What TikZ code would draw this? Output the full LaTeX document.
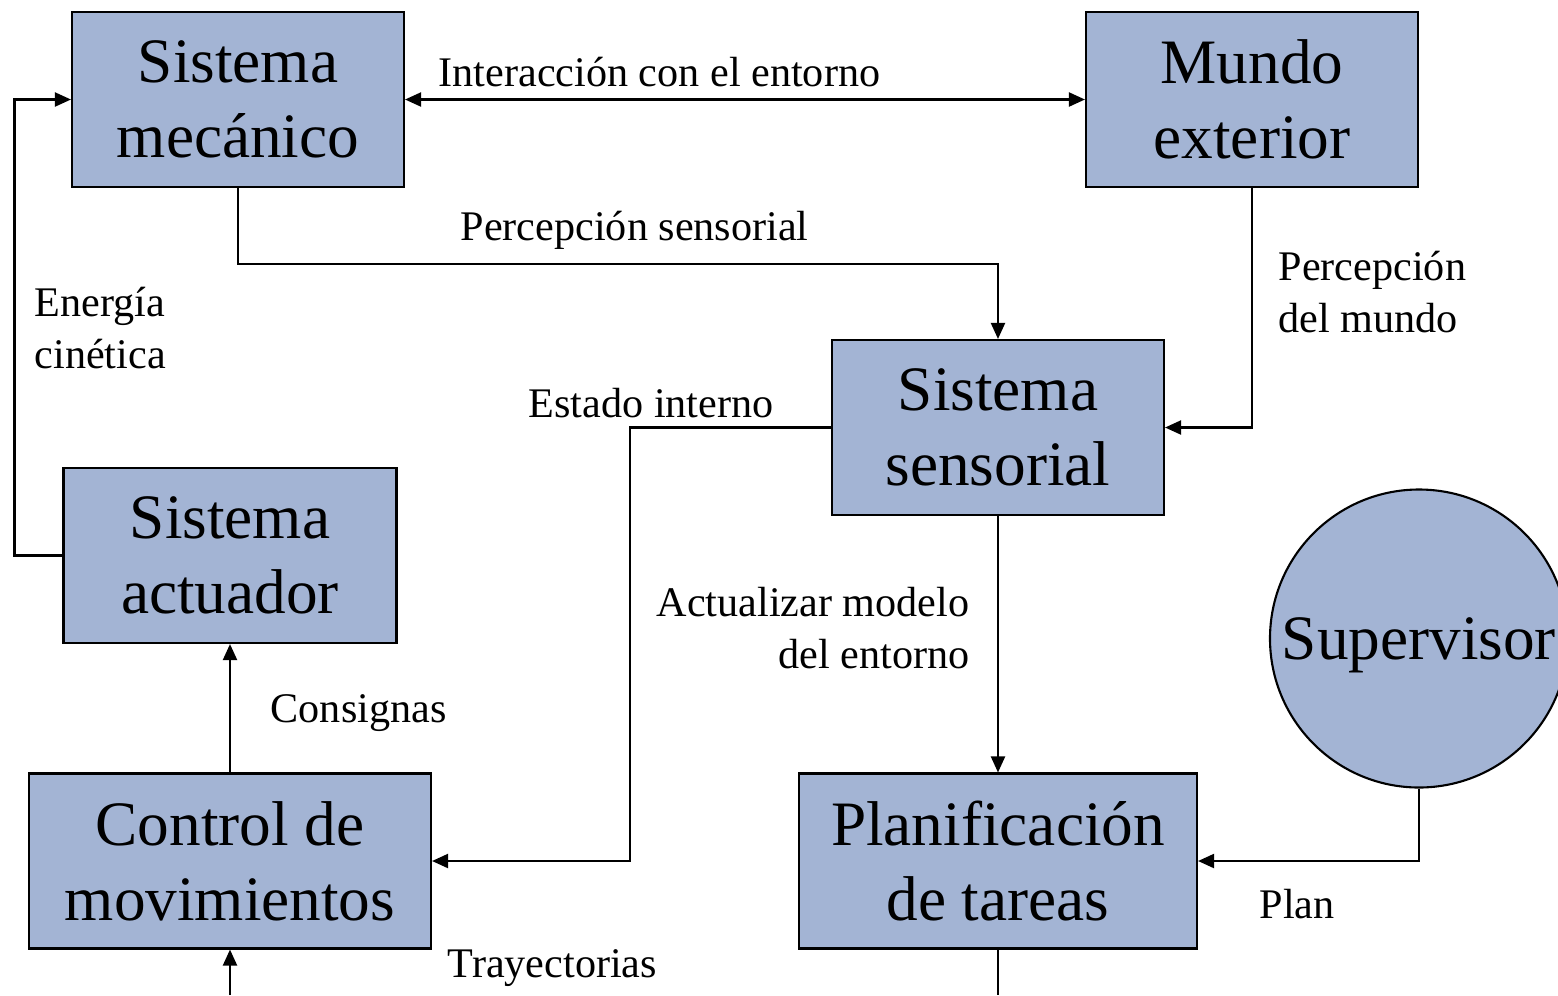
\documentclass[tikz,border=0pt]{standalone}
\usepackage{fontspec}
\setmainfont{Liberation Serif}
\usetikzlibrary{arrows.meta}
\definecolor{azulbloque}{RGB}{163,180,212}

\begin{document}
\begin{tikzpicture}[scale = 1,
		>={Triangle[length = 1.6mm, width = 1.4mm]},
		linea/.style = {line width = 0.6pt},
		bloque/.style = {draw, line width = 0.6pt, fill = azulbloque, align = center, minimum width = 3.32cm, minimum height = 1.75cm, inner sep = 0pt, font = \fontsize{18}{21.3}\selectfont},
		circulo/.style = {bloque, circle, minimum size = 2.98cm, text depth = 0pt},
		etiqueta/.style = {inner sep = 0pt, font = \fontsize{12}{14.8}\selectfont}]
				%	marco
				\useasboundingbox (0, 0) rectangle (15.58, -9.95);
				
				%	bloques
				\node[bloque] (mecanico) at (2.38, -0.995) {Sistema\\mecánico};
				\node[bloque] (mundo) at (12.52, -0.995) {Mundo\\exterior};
				\node[bloque] (sensorial) at (9.98, -4.275) {Sistema\\sensorial};
				\node[bloque, minimum width = 3.33cm] (actuador) at (2.30, -5.555) {Sistema\\actuador};
				\node[bloque, minimum width = 4.02cm] (control) at (2.30, -8.61) {Control de\\movimientos};
				\node[bloque, minimum width = 3.98cm] (planificacion) at (9.98, -8.61) {Planificación\\de tareas};
				\node[circulo] (supervisor) at (14.19, -6.385) {Supervisor};
				
				%	extremos sueltos
				\coordinate (entrada) at (2.30, -9.95);
				\coordinate (salida) at (9.98, -9.95);
				
				%	flechas
				\draw[linea, <->] (mecanico.east) -- (mundo.west);
				\draw[linea, ->] (mecanico.south) -- ++(0, -0.76) -| (sensorial.north);
				\draw[linea, ->] (mundo.south) |- (sensorial.east);
				\draw[linea, ->] (sensorial.west) -- ++(-2.01, 0) |- (control.east);
				\draw[linea, ->] (sensorial.south) -- (planificacion.north);
				\draw[linea, ->] (supervisor.south) |- (planificacion.east);
				\draw[linea, ->] (actuador.west) -- ++(-0.48, 0) |- (mecanico.west);
				\draw[linea, ->] (control.north) -- (actuador.south);
				\draw[linea, ->] (entrada) -- (control.south);
				\draw[linea] (planificacion.south) -- (salida);
				
				%	etiquetas
				\node[etiqueta, anchor = base west] (interaccion) at (4.38, -0.86) {Interacción con el entorno};
				\node[etiqueta, anchor = base west] (percsensorial) at (4.60, -2.40) {Percepción sensorial};
				\node[etiqueta, anchor = west, align = left] (percmundo) at (12.78, -2.92) {Percepción\\del mundo};
				\node[etiqueta, anchor = west, align = left] (energia) at (0.34, -3.28) {Energía\\cinética};
				\node[etiqueta, anchor = base west] (estado) at (5.28, -4.17) {Estado interno};
				\node[etiqueta, anchor = east, align = right] (actualizar) at (9.70, -6.28) {Actualizar modelo\\del entorno};
				\node[etiqueta, anchor = base west] (consignas) at (2.70, -7.22) {Consignas};
				\node[etiqueta, anchor = base west] (plan) at (12.59, -9.18) {Plan};
				\node[etiqueta, anchor = base west] (trayectorias) at (4.47, -9.77) {Trayectorias};
				\end{tikzpicture}
\end{document}
